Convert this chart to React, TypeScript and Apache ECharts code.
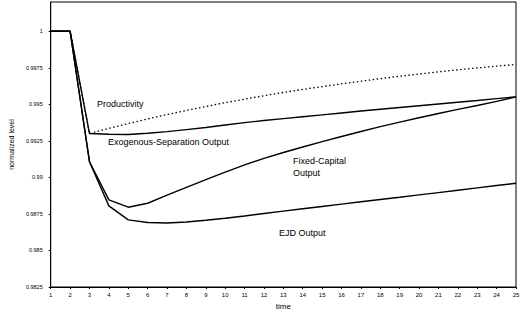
import React, { useEffect, useRef } from "react";
import * as echarts from "echarts";

const times = [1, 2, 3, 4, 5, 6, 7, 8, 9, 10, 11, 12, 13, 14, 15, 16, 17, 18, 19, 20, 21, 22, 23, 24, 25];

const productivity = [1, 1, 0.993, 0.99335, 0.99368, 0.994, 0.9943, 0.99458, 0.99485, 0.99511, 0.99535, 0.99559, 0.99581, 0.99602, 0.99621, 0.9964, 0.99658, 0.99675, 0.99692, 0.99707, 0.99722, 0.99736, 0.99749, 0.99761, 0.99773];

const exogenousSeparation = [1, 1, 0.993, 0.99295, 0.99293, 0.99302, 0.99313, 0.99327, 0.99341, 0.99358, 0.99375, 0.99389, 0.99402, 0.99415, 0.99428, 0.99441, 0.99454, 0.99466, 0.99478, 0.9949, 0.99502, 0.99514, 0.99526, 0.99539, 0.99551];

const fixedCapital = [1, 1, 0.99107, 0.98846, 0.98796, 0.98823, 0.98878, 0.98932, 0.98985, 0.99036, 0.99085, 0.9913, 0.9917, 0.99208, 0.99245, 0.9928, 0.99314, 0.99347, 0.99378, 0.99408, 0.99437, 0.99465, 0.99492, 0.9952, 0.99551];

const ejd = [1, 1, 0.99107, 0.98805, 0.98709, 0.98691, 0.98688, 0.98695, 0.98707, 0.9872, 0.98736, 0.98753, 0.98769, 0.98785, 0.98801, 0.98817, 0.98833, 0.98849, 0.98864, 0.9888, 0.98896, 0.98912, 0.98928, 0.98944, 0.9896];

const FONT = "Liberation Sans, Arial, sans-serif";

function pairs(vals: number[]) {
  return times.map((t, i) => [t, vals[i]]);
}

export default function App() {
  const ref = useRef<HTMLDivElement>(null);
  useEffect(() => {
    if (!ref.current) return;
    const chart = echarts.init(ref.current, undefined, { renderer: "svg" });
    const lineBase = {
      type: "line" as const,
      showSymbol: false,
      symbol: "none",
      silent: true,
      lineStyle: { color: "#000", width: 1.4 },
    };
    chart.setOption({
      animation: false,
      backgroundColor: "#fff",
      grid: {
        left: 46,
        right: 9,
        top: 2,
        bottom: 29,
        show: true,
        borderColor: "#000",
        borderWidth: 1,
      },
      xAxis: {
        type: "value",
        min: 1,
        max: 25,
        interval: 1,
        name: "time",
        nameLocation: "middle",
        nameGap: 8,
        nameTextStyle: { fontFamily: FONT, fontSize: 8, color: "#000" },
        axisLine: { lineStyle: { color: "#000", width: 1 } },
        axisTick: { length: 2, lineStyle: { color: "#000" } },
        axisLabel: { fontFamily: FONT, fontSize: 6, color: "#000", margin: 5 },
        splitLine: { show: false },
      },
      yAxis: {
        type: "value",
        min: 0.9825,
        max: 1.002,
        interval: 0.0025,
        name: "normalized level",
        nameLocation: "middle",
        nameGap: 18,
        nameTextStyle: { fontFamily: FONT, fontSize: 7, color: "#000" },
        axisLine: { show: true, lineStyle: { color: "#000", width: 1 } },
        axisTick: { show: true, length: 2, lineStyle: { color: "#000" } },
        axisLabel: {
          fontFamily: FONT,
          fontSize: 5.5,
          color: "#000",
          margin: 8,
          showMaxLabel: false,
          formatter: (v: number) => (v > 1.0005 ? "" : String(parseFloat(v.toFixed(4)))),
        },
        splitLine: { show: false },
      },
      graphic: [
        { type: "text", left: 97, top: 99, style: { text: "Productivity", font: `9px ${FONT}`, fill: "#000" } },
        { type: "text", left: 108, top: 137, style: { text: "Exogenous-Separation Output", font: `9px ${FONT}`, fill: "#000" } },
        { type: "text", left: 293, top: 156, style: { text: "Fixed-Capital", font: `9px ${FONT}`, fill: "#000" } },
        { type: "text", left: 293, top: 168, style: { text: "Output", font: `9px ${FONT}`, fill: "#000" } },
        { type: "text", left: 279, top: 228, style: { text: "EJD Output", font: `9px ${FONT}`, fill: "#000" } },
      ],
      series: [
        { ...lineBase, name: "Productivity", data: pairs(productivity), lineStyle: { color: "#000", width: 1.3, type: [1.5, 2.5] } },
        { ...lineBase, name: "Exogenous-Separation Output", data: pairs(exogenousSeparation) },
        { ...lineBase, name: "Fixed-Capital Output", data: pairs(fixedCapital) },
        { ...lineBase, name: "EJD Output", data: pairs(ejd) },
      ],
    });
    return () => chart.dispose();
  }, []);
  return <div ref={ref} style={{ width: 525, height: 316, position: "absolute", left: 0, top: 0 }} />;
}
